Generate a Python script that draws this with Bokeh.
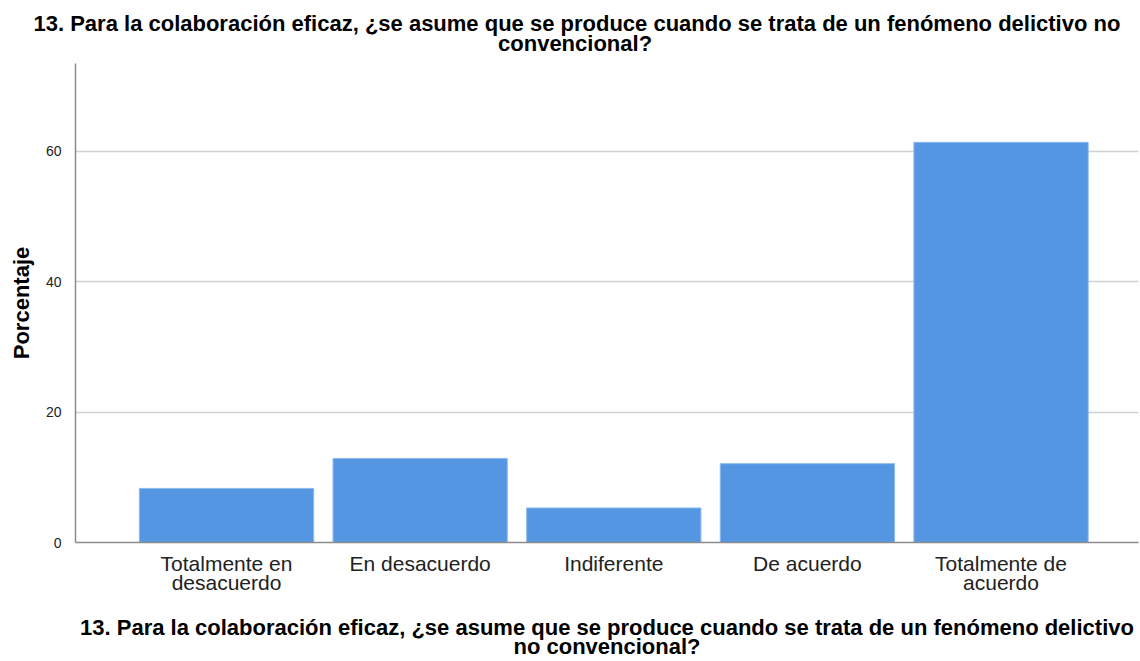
from bokeh.plotting import figure
from bokeh.models import ColumnDataSource, FixedTicker, Range1d
from bokeh.embed import file_html
from bokeh.resources import INLINE

categorias = ["Totalmente en\ndesacuerdo", "En desacuerdo", "Indiferente",
              "De acuerdo", "Totalmente de\nacuerdo"]
porcentajes = [8.3, 12.9, 5.3, 12.1, 61.4]
y_ticks = [0, 20, 40, 60]
titulo_l1 = "13. Para la colaboración eficaz, ¿se asume que se produce cuando se trata de un fenómeno delictivo no"
titulo_l2 = "convencional?"
x_titulo = ("13. Para la colaboración eficaz, ¿se asume que se produce cuando se trata de un fenómeno delictivo\n"
            "no convencional?")

pos = list(range(1, len(categorias) + 1))
src = ColumnDataSource(dict(x=pos, top=porcentajes))

p = figure(width=1140, height=661, output_backend="svg", toolbar_location=None,
           x_range=Range1d(0.22, 5.71), y_range=Range1d(0, 73.5),
           min_border_left=75, min_border_right=2, min_border_top=63, min_border_bottom=119)

p.vbar(x="x", top="top", bottom=0, width=0.9, source=src,
       fill_color="#5596E3", line_color="#8DB8EE", line_width=1)

# two-line title; second line centred under the first with no-break spaces
p.title.text = titulo_l1 + "\n" + "\u00a0" * 76 + titulo_l2
p.title.align = "left"
p.title.offset = -42
p.title.standoff = 15
p.title.text_font = "Liberation Sans"
p.title.text_font_size = "22px"
p.title.text_font_style = "bold"
p.title.text_color = "#000000"
p.title.text_line_height = 0.8

p.outline_line_color = None
p.xgrid.grid_line_color = None
p.ygrid.grid_line_color = "#D0D0D0"
p.ygrid.grid_line_width = 1.5
p.ygrid.ticker = FixedTicker(ticks=y_ticks)

p.yaxis.ticker = FixedTicker(ticks=y_ticks)
p.yaxis.axis_label = "Porcentaje"
p.yaxis.axis_label_text_font = "Liberation Sans"
p.yaxis.axis_label_text_font_size = "22px"
p.yaxis.axis_label_text_font_style = "bold"
p.yaxis.axis_label_text_color = "#000000"
p.yaxis.axis_label_standoff = 9
p.yaxis.major_label_text_font = "Liberation Sans"
p.yaxis.major_label_text_font_size = "14px"
p.yaxis.major_label_text_color = "#222222"
p.yaxis.major_tick_line_color = None
p.yaxis.minor_tick_line_color = None
p.yaxis.axis_line_color = "#8C8C8C"
p.yaxis.axis_line_width = 1.5
p.yaxis.major_label_standoff = 8

p.xaxis.ticker = FixedTicker(ticks=pos)
p.xaxis.major_label_overrides = {i: c for i, c in zip(pos, categorias)}
p.xaxis.axis_label = x_titulo
p.xaxis.axis_label_text_font = "Liberation Sans"
p.xaxis.axis_label_text_font_size = "22px"
p.xaxis.axis_label_text_font_style = "bold"
p.xaxis.axis_label_text_color = "#000000"
p.xaxis.axis_label_text_line_height = 0.75
p.xaxis.major_label_text_font = "Liberation Sans"
p.xaxis.major_label_text_font_size = "21px"
p.xaxis.major_label_text_line_height = 0.85
p.xaxis.major_label_text_color = "#222222"
p.xaxis.major_tick_line_color = None
p.xaxis.minor_tick_line_color = None
p.xaxis.axis_line_color = "#8C8C8C"
p.xaxis.axis_line_width = 1.5
p.xaxis.major_label_standoff = 3
p.xaxis.axis_label_standoff = 18

open("out.html", "w").write(file_html(p, INLINE))
